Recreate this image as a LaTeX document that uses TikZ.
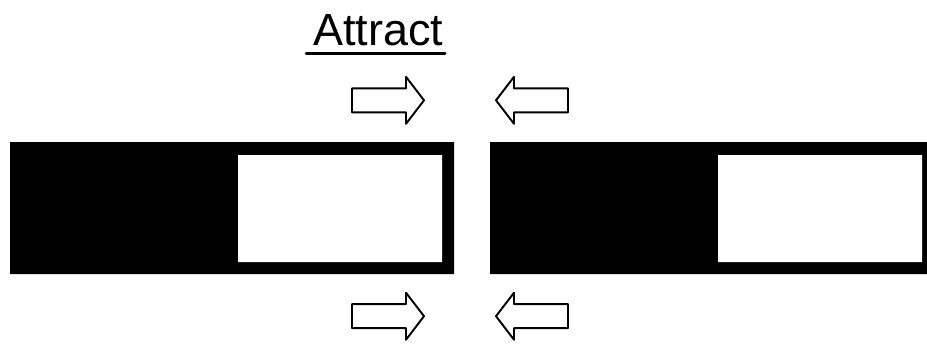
\documentclass[tikz,border=0pt]{standalone}
\usepackage{fontspec}
\setmainfont{Liberation Sans}
\usepackage{tkz-euclide}
\usetikzlibrary{calc}

\begin{document}
\begin{tikzpicture}[%
  x=0.02cm, y=-0.02cm,
  line join=miter,
]

  \clip (0,0) rectangle (927,343);

  % magnets
  \tkzDefPoint(10,142){A}
  \tkzDefPoint(454,142){B}
  \tkzDefPoint(454,274){C}
  \tkzDefPoint(10,274){D}
  \tkzDefPoint(238,155){E}
  \tkzDefPoint(442,155){F}
  \tkzDefPoint(442,262){G}
  \tkzDefPoint(238,262){H}

  \tkzDefPoint(490,142){P}
  \tkzDefPoint(934,142){Q}
  \tkzDefPoint(934,274){R}
  \tkzDefPoint(490,274){S}
  \tkzDefPoint(718,155){T}
  \tkzDefPoint(922,155){U}
  \tkzDefPoint(922,262){V}
  \tkzDefPoint(718,262){W}

  \tkzFillPolygon[color=black](A,B,C,D)
  \tkzFillPolygon[color=white](E,F,G,H)
  \tkzFillPolygon[color=black](P,Q,R,S)
  \tkzFillPolygon[color=white](T,U,V,W)

  % block arrows
  \foreach \yy/\row in {100.3/a, 316.2/b}{
    \foreach \xt/\xb/\xp/\side in {352/406/424/r, 568/514/496/l}{
      \tkzDefPoint(\xt,\yy-12){\row\side1}
      \tkzDefPoint(\xb,\yy-12){\row\side2}
      \tkzDefPoint(\xb,\yy-23.5){\row\side3}
      \tkzDefPoint(\xp,\yy){\row\side4}
      \tkzDefPoint(\xb,\yy+23.5){\row\side5}
      \tkzDefPoint(\xb,\yy+12){\row\side6}
      \tkzDefPoint(\xt,\yy+12){\row\side7}
    }
  }

  \tkzDrawPolygon[color=black,fill=white,line width=1.1pt](ar1,ar2,ar3,ar4,ar5,ar6,ar7)
  \tkzDrawPolygon[color=black,fill=white,line width=1.1pt](al1,al2,al3,al4,al5,al6,al7)
  \tkzDrawPolygon[color=black,fill=white,line width=1.1pt](br1,br2,br3,br4,br5,br6,br7)
  \tkzDrawPolygon[color=black,fill=white,line width=1.1pt](bl1,bl2,bl3,bl4,bl5,bl6,bl7)

  % title
  \node[anchor=base, inner sep=0pt, font=\fontsize{25.6}{30}\selectfont]
    (title) at (378,45) {Attract};
  \tkzDefPoint(306,53.7){u}
  \tkzDefPoint(445,53.7){v}
  \tkzDrawSegment[line width=1.7pt](u,v)

\end{tikzpicture}
\end{document}
